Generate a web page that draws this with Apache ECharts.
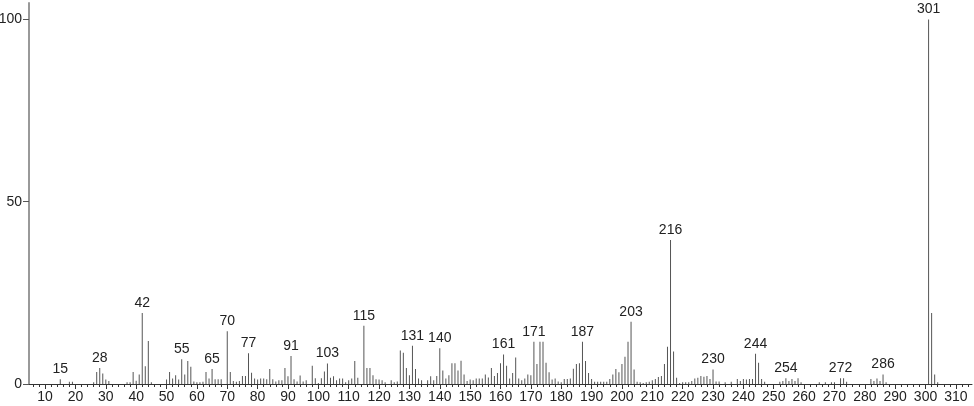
<!DOCTYPE html>
<html>
<head>
<meta charset="utf-8">
<script src="https://cdn.jsdelivr.net/npm/echarts@6/dist/echarts.min.js"></script>
<style>
  html, body { margin: 0; padding: 0; background: #fff; }
  #chart { width: 974px; height: 406px; }
</style>
</head>
<body>
<div id="chart"></div>
<script>
// m/z values and relative intensities
var mz = [15,18,19,26,27,28,29,30,31,37,38,39,40,41,42,43,44,45,
  50,51,52,53,54,55,56,57,58,59,60,61,62,63,64,65,66,67,68,70,71,72,73,74,75,76,77,78,79,
  80,81,82,83,84,85,86,87,88,89,90,91,92,93,94,95,96,98,99,100,101,102,103,104,105,106,107,108,109,
  110,111,112,113,115,116,117,118,119,120,121,122,124,125,126,127,128,129,130,131,132,133,134,136,137,138,139,
  140,141,142,143,144,145,146,147,148,149,150,151,152,153,154,155,156,157,158,159,160,161,162,163,164,165,166,167,168,169,
  170,171,172,173,174,175,176,177,178,179,180,181,182,183,184,185,186,187,188,189,190,191,192,193,194,195,196,197,198,199,
  200,201,202,203,204,205,206,207,208,209,210,211,212,213,214,215,216,217,218,219,220,221,222,223,224,225,226,227,228,229,
  230,231,232,234,236,238,239,240,241,242,243,244,245,246,247,252,253,254,255,256,257,258,259,
  265,267,269,270,272,273,274,282,283,284,285,286,287,301,302,303,304];
var intensity = [1.3,0.6,0.6,0.5,3.3,4.4,2.9,1.2,0.8,0.5,0.5,3.3,0.9,2.6,19.5,4.9,11.8,0.5,
  1.2,3.3,1.5,2.4,1.2,6.8,2.6,6.3,4.7,0.7,0.5,0.5,0.6,3.3,1.5,4.1,1.3,1.3,1.3,14.5,3.3,0.8,0.6,0.8,2.2,2.2,8.4,3.1,1.5,
  1.2,1.5,1.5,1.3,4.1,1.3,0.7,1.0,1.0,4.4,2.1,7.7,1.3,0.7,2.3,0.7,1.0,5.0,1.6,0.3,1.6,3.4,5.6,1.7,2.1,1.0,1.5,1.5,0.5,
  1.0,1.5,6.3,1.7,16.0,4.4,4.4,2.4,1.3,1.2,1.0,0.5,1.0,0.5,0.7,9.2,8.6,4.4,2.4,10.5,4.1,1.5,1.0,1.0,2.1,1.0,2.2,
  9.8,3.7,1.5,2.4,5.7,5.7,3.7,6.4,2.6,0.8,1.2,1.0,1.5,1.5,1.5,2.6,1.8,4.4,2.2,3.0,5.7,8.1,5.0,1.5,3.0,7.3,1.5,1.0,1.5,2.6,
  2.4,11.6,5.5,11.6,11.6,5.8,3.2,1.2,1.5,0.7,0.5,1.4,1.4,1.5,4.2,5.5,5.7,11.6,6.3,3.0,1.4,0.6,0.6,0.6,0.6,0.6,1.4,2.6,4.1,3.2,
  5.5,7.5,11.6,17.1,4.0,0.6,0.5,0.3,0.5,0.6,1.0,1.4,1.9,2.2,5.5,10.2,39.5,8.9,1.7,0.3,0.5,0.5,0.5,0.8,1.5,1.7,2.2,2.0,2.2,1.4,
  4.0,0.7,0.7,0.5,0.6,1.4,0.8,1.4,1.2,1.4,1.4,8.3,5.8,1.4,0.6,0.6,0.8,1.6,0.8,1.4,0.8,1.6,0.5,
  0.5,0.5,0.5,0.5,1.6,1.6,0.6,1.4,0.8,1.5,0.8,2.6,0.5,100,19.5,2.6,0.5];
var labeledPeaks = [15,28,42,55,65,70,77,91,103,115,131,140,161,171,187,203,216,230,244,254,272,286,301];
var xTicks = [10,20,30,40,50,60,70,80,90,100,110,120,130,140,150,160,170,180,190,200,210,220,230,240,250,260,270,280,290,300,310];
var xMinorTicks = [];
for (var t = 6; t <= 314; t += 2) {
  if (t % 10 !== 0) xMinorTicks.push(t);
}
var yTicks = [0, 50, 100];

var peaks = mz.map(function (m, i) { return [m, intensity[i]]; });

var font = 'Liberation Sans';
var chart = echarts.init(document.getElementById('chart'));
chart.setOption({
  animation: false,
  grid: { left: 29, right: 2, top: 3, bottom: 22, outerBoundsMode: 'none', containLabel: false },
  xAxis: [{
    type: 'value',
    min: 4.7,
    max: 315.3,
    splitLine: { show: false },
    axisLine: { onZero: false, lineStyle: { color: '#333', width: 1 } },
    axisTick: { customValues: xTicks, length: 5, lineStyle: { color: '#333' } },
    axisLabel: { customValues: xTicks, color: '#222', fontFamily: font, fontSize: 14, margin: 6 }
  }, {
    type: 'value',
    position: 'bottom',
    min: 4.7,
    max: 315.3,
    splitLine: { show: false },
    axisLine: { show: false },
    axisTick: { customValues: xMinorTicks, length: 3, lineStyle: { color: '#333' } },
    axisLabel: { show: false }
  }],
  yAxis: {
    type: 'value',
    min: 0,
    max: 104.5,
    splitLine: { show: false },
    axisLine: { show: true, lineStyle: { color: '#999', width: 2 } },
    axisTick: { show: true, customValues: yTicks, length: 6, lineStyle: { color: '#555' } },
    axisLabel: { customValues: yTicks, color: '#222', fontFamily: font, fontSize: 14, margin: 7 }
  },
  series: [{
    type: 'bar',
    xAxisIndex: 0,
    barWidth: 1,
    itemStyle: { color: '#555' },
    label: {
      show: true,
      position: 'top',
      distance: 3,
      color: '#222',
      fontFamily: font,
      fontSize: 14,
      formatter: function (p) {
        return labeledPeaks.indexOf(p.value[0]) >= 0 ? String(p.value[0]) : '';
      }
    },
    data: peaks
  }]
});
</script>
</body>
</html>
